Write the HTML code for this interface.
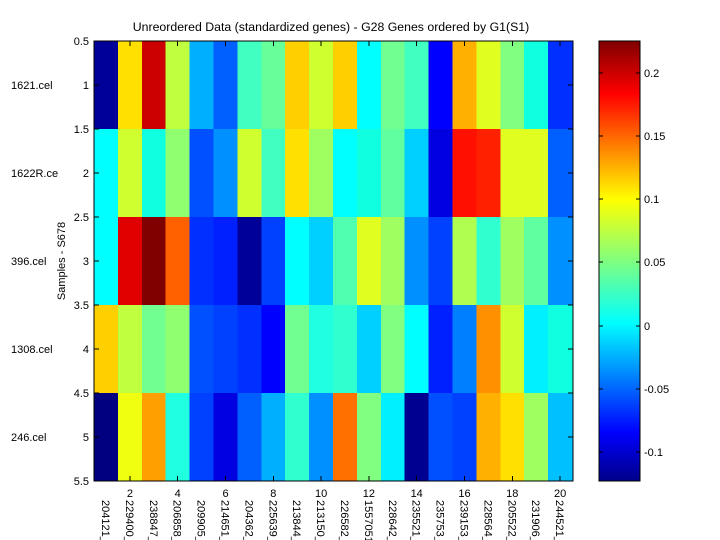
<!DOCTYPE html>
<html><head><meta charset="utf-8"><style>
html,body{margin:0;padding:0;background:#fff;}
svg{display:block;font-family:"Liberation Sans",Arial,sans-serif;}
</style></head><body>
<svg width="720" height="540" viewBox="0 0 720 540" xmlns="http://www.w3.org/2000/svg">
<defs>
<linearGradient id="jet" x1="0" y1="1" x2="0" y2="0">
<stop offset="0" stop-color="#000088"/>
<stop offset="0.11" stop-color="#0000FF"/>
<stop offset="0.36" stop-color="#00FFFF"/>
<stop offset="0.64" stop-color="#FFFF00"/>
<stop offset="0.88" stop-color="#FF0000"/>
<stop offset="1" stop-color="#800000"/>
</linearGradient>
</defs>
<rect width="720" height="540" fill="#fff"/>
<text x="331" y="31" font-size="12.3" text-anchor="middle">Unreordered Data (standardized genes) - G28 Genes ordered by G1(S1)</text>
<g shape-rendering="crispEdges">
<g transform="translate(0,41)">
<rect x="94" width="24.3" height="88" fill="#000099"/><rect x="117.9" width="24.3" height="88" fill="#FFE000"/><rect x="141.8" width="24.3" height="88" fill="#CC0000"/><rect x="165.7" width="24.3" height="88" fill="#C0FF40"/><rect x="189.6" width="24.3" height="88" fill="#00B0FF"/><rect x="213.5" width="24.3" height="88" fill="#0060FF"/><rect x="237.4" width="24.3" height="88" fill="#40FFC0"/><rect x="261.3" width="24.3" height="88" fill="#66FF99"/><rect x="285.2" width="24.3" height="88" fill="#FFD000"/><rect x="309.1" width="24.3" height="88" fill="#D0FF30"/><rect x="333" width="24.3" height="88" fill="#FFD000"/><rect x="356.9" width="24.3" height="88" fill="#00FFFF"/><rect x="380.8" width="24.3" height="88" fill="#70FF90"/><rect x="404.7" width="24.3" height="88" fill="#40FFC0"/><rect x="428.6" width="24.3" height="88" fill="#0000FF"/><rect x="452.5" width="24.3" height="88" fill="#FFB000"/><rect x="476.4" width="24.3" height="88" fill="#E0FF20"/><rect x="500.3" width="24.3" height="88" fill="#80FF80"/><rect x="524.2" width="24.3" height="88" fill="#10FFE0"/><rect x="548.1" width="24.9" height="88" fill="#0030FF"/>
</g>
<g transform="translate(0,129)">
<rect x="94" width="24.3" height="88" fill="#00FFFF"/><rect x="117.9" width="24.3" height="88" fill="#D0FF30"/><rect x="141.8" width="24.3" height="88" fill="#10FFE0"/><rect x="165.7" width="24.3" height="88" fill="#90FF70"/><rect x="189.6" width="24.3" height="88" fill="#0050FF"/><rect x="213.5" width="24.3" height="88" fill="#0090FF"/><rect x="237.4" width="24.3" height="88" fill="#D0FF30"/><rect x="261.3" width="24.3" height="88" fill="#40FFC0"/><rect x="285.2" width="24.3" height="88" fill="#FFE000"/><rect x="309.1" width="24.3" height="88" fill="#A0FF60"/><rect x="333" width="24.3" height="88" fill="#00FFFF"/><rect x="356.9" width="24.3" height="88" fill="#10FFE0"/><rect x="380.8" width="24.3" height="88" fill="#60FFA0"/><rect x="404.7" width="24.3" height="88" fill="#00D0FF"/><rect x="428.6" width="24.3" height="88" fill="#0000E0"/><rect x="452.5" width="24.3" height="88" fill="#FF1000"/><rect x="476.4" width="24.3" height="88" fill="#FF2000"/><rect x="500.3" width="24.3" height="88" fill="#E0FF20"/><rect x="524.2" width="24.3" height="88" fill="#E0FF20"/><rect x="548.1" width="24.9" height="88" fill="#0060FF"/>
</g>
<g transform="translate(0,217)">
<rect x="94" width="24.3" height="88" fill="#00FFFF"/><rect x="117.9" width="24.3" height="88" fill="#E00000"/><rect x="141.8" width="24.3" height="88" fill="#800000"/><rect x="165.7" width="24.3" height="88" fill="#FF6000"/><rect x="189.6" width="24.3" height="88" fill="#0030FF"/><rect x="213.5" width="24.3" height="88" fill="#0020FF"/><rect x="237.4" width="24.3" height="88" fill="#000099"/><rect x="261.3" width="24.3" height="88" fill="#0040FF"/><rect x="285.2" width="24.3" height="88" fill="#00FFFF"/><rect x="309.1" width="24.3" height="88" fill="#00D0FF"/><rect x="333" width="24.3" height="88" fill="#50FFB0"/><rect x="356.9" width="24.3" height="88" fill="#E0FF20"/><rect x="380.8" width="24.3" height="88" fill="#A0FF60"/><rect x="404.7" width="24.3" height="88" fill="#0090FF"/><rect x="428.6" width="24.3" height="88" fill="#0040FF"/><rect x="452.5" width="24.3" height="88" fill="#B0FF50"/><rect x="476.4" width="24.3" height="88" fill="#30FFD0"/><rect x="500.3" width="24.3" height="88" fill="#A0FF60"/><rect x="524.2" width="24.3" height="88" fill="#60FFA0"/><rect x="548.1" width="24.9" height="88" fill="#0090FF"/>
</g>
<g transform="translate(0,305)">
<rect x="94" width="24.3" height="88" fill="#FFD000"/><rect x="117.9" width="24.3" height="88" fill="#C0FF40"/><rect x="141.8" width="24.3" height="88" fill="#70FF90"/><rect x="165.7" width="24.3" height="88" fill="#90FF70"/><rect x="189.6" width="24.3" height="88" fill="#0050FF"/><rect x="213.5" width="24.3" height="88" fill="#0040FF"/><rect x="237.4" width="24.3" height="88" fill="#0030FF"/><rect x="261.3" width="24.3" height="88" fill="#0000FF"/><rect x="285.2" width="24.3" height="88" fill="#70FF90"/><rect x="309.1" width="24.3" height="88" fill="#20FFE0"/><rect x="333" width="24.3" height="88" fill="#30FFD0"/><rect x="356.9" width="24.3" height="88" fill="#00D0FF"/><rect x="380.8" width="24.3" height="88" fill="#80FF80"/><rect x="404.7" width="24.3" height="88" fill="#00FFFF"/><rect x="428.6" width="24.3" height="88" fill="#0020FF"/><rect x="452.5" width="24.3" height="88" fill="#0080FF"/><rect x="476.4" width="24.3" height="88" fill="#FF9000"/><rect x="500.3" width="24.3" height="88" fill="#D0FF30"/><rect x="524.2" width="24.3" height="88" fill="#00F0FF"/><rect x="548.1" width="24.9" height="88" fill="#10FFE0"/>
</g>
<g transform="translate(0,393)">
<rect x="94" width="24.3" height="88" fill="#000080"/><rect x="117.9" width="24.3" height="88" fill="#F0FF10"/><rect x="141.8" width="24.3" height="88" fill="#FFA000"/><rect x="165.7" width="24.3" height="88" fill="#20FFE0"/><rect x="189.6" width="24.3" height="88" fill="#0040FF"/><rect x="213.5" width="24.3" height="88" fill="#0000E0"/><rect x="237.4" width="24.3" height="88" fill="#0060FF"/><rect x="261.3" width="24.3" height="88" fill="#00B0FF"/><rect x="285.2" width="24.3" height="88" fill="#30FFD0"/><rect x="309.1" width="24.3" height="88" fill="#0090FF"/><rect x="333" width="24.3" height="88" fill="#FF7000"/><rect x="356.9" width="24.3" height="88" fill="#80FF80"/><rect x="380.8" width="24.3" height="88" fill="#00F0FF"/><rect x="404.7" width="24.3" height="88" fill="#000090"/><rect x="428.6" width="24.3" height="88" fill="#0050FF"/><rect x="452.5" width="24.3" height="88" fill="#0040FF"/><rect x="476.4" width="24.3" height="88" fill="#FFB000"/><rect x="500.3" width="24.3" height="88" fill="#FFE000"/><rect x="524.2" width="24.3" height="88" fill="#A0FF60"/><rect x="548.1" width="24.9" height="88" fill="#00C0FF"/>
</g>
<rect x="94" y="41" width="479" height="440" fill="none" stroke="#000" stroke-width="1"/>
<g stroke="#000" stroke-width="1">
<path d="M94 41h5M94 85h5M94 129h5M94 173h5M94 217h5M94 261h5M94 305h5M94 349h5M94 393h5M94 437h5M94 481h5"/>
<path d="M573 41h-5M573 85h-5M573 129h-5M573 173h-5M573 217h-5M573 261h-5M573 305h-5M573 349h-5M573 393h-5M573 437h-5M573 481h-5"/>
<path d="M129.9 481v-5M177.7 481v-5M225.5 481v-5M273.3 481v-5M321.1 481v-5M368.9 481v-5M416.7 481v-5M464.5 481v-5M512.3 481v-5M560.1 481v-5"/>
<path d="M129.9 41v5M177.7 41v5M225.5 41v5M273.3 41v5M321.1 41v5M368.9 41v5M416.7 41v5M464.5 41v5M512.3 41v5M560.1 41v5"/>
</g>
</g>
<g font-size="11" text-anchor="end">
<text x="89" y="45">0.5</text><text x="89" y="89">1</text><text x="89" y="133">1.5</text><text x="89" y="177">2</text><text x="89" y="221">2.5</text><text x="89" y="265">3</text><text x="89" y="309">3.5</text><text x="89" y="353">4</text><text x="89" y="397">4.5</text><text x="89" y="441">5</text><text x="89" y="485">5.5</text>
</g>
<g font-size="11">
<text x="11" y="89">1621.cel</text><text x="11" y="177">1622R.ce</text><text x="11" y="265">396.cel</text><text x="11" y="353">1308.cel</text><text x="11" y="441">246.cel</text>
</g>
<text transform="translate(65,261) rotate(-90)" font-size="11" text-anchor="middle">Samples - S678</text>
<g font-size="11" text-anchor="middle">
<text x="129.9" y="497">2</text><text x="177.7" y="497">4</text><text x="225.5" y="497">6</text><text x="273.3" y="497">8</text><text x="321.1" y="497">10</text><text x="368.9" y="497">12</text><text x="416.7" y="497">14</text><text x="464.5" y="497">16</text><text x="512.3" y="497">18</text><text x="560.1" y="497">20</text>
</g>
<g font-size="11">
<text transform="translate(102,500) rotate(90)">204121_</text>
<text transform="translate(125.9,500) rotate(90)">229400_</text>
<text transform="translate(149.8,500) rotate(90)">238847_</text>
<text transform="translate(173.7,500) rotate(90)">206858_</text>
<text transform="translate(197.6,500) rotate(90)">209905_</text>
<text transform="translate(221.5,500) rotate(90)">214651_</text>
<text transform="translate(245.4,500) rotate(90)">204362_</text>
<text transform="translate(269.3,500) rotate(90)">225639_</text>
<text transform="translate(293.2,500) rotate(90)">213844_</text>
<text transform="translate(317.1,500) rotate(90)">213150_</text>
<text transform="translate(341,500) rotate(90)">226582_</text>
<text transform="translate(364.9,500) rotate(90)">1557051</text>
<text transform="translate(388.8,500) rotate(90)">228642_</text>
<text transform="translate(412.7,500) rotate(90)">235521_</text>
<text transform="translate(436.6,500) rotate(90)">235753_</text>
<text transform="translate(460.5,500) rotate(90)">239153_</text>
<text transform="translate(484.4,500) rotate(90)">228564_</text>
<text transform="translate(508.3,500) rotate(90)">205522_</text>
<text transform="translate(532.2,500) rotate(90)">231906_</text>
<text transform="translate(556.1,500) rotate(90)">244521_</text>
</g>
<rect x="599" y="41" width="41" height="440" fill="url(#jet)" stroke="#000" stroke-width="1"/>
<g stroke="#000" stroke-width="1">
<path d="M640 73h-4M640 136h-4M640 199h-4M640 262h-4M640 326h-4M640 389h-4M640 452h-4"/>
<path d="M599 73h4M599 136h4M599 199h4M599 262h4M599 326h4M599 389h4M599 452h4"/>
</g>
<g font-size="11">
<text x="644" y="77">0.2</text><text x="644" y="140">0.15</text><text x="644" y="203">0.1</text><text x="644" y="266">0.05</text><text x="644" y="330">0</text><text x="644" y="393">-0.05</text><text x="644" y="456">-0.1</text>
</g>
</svg>
</body></html>
